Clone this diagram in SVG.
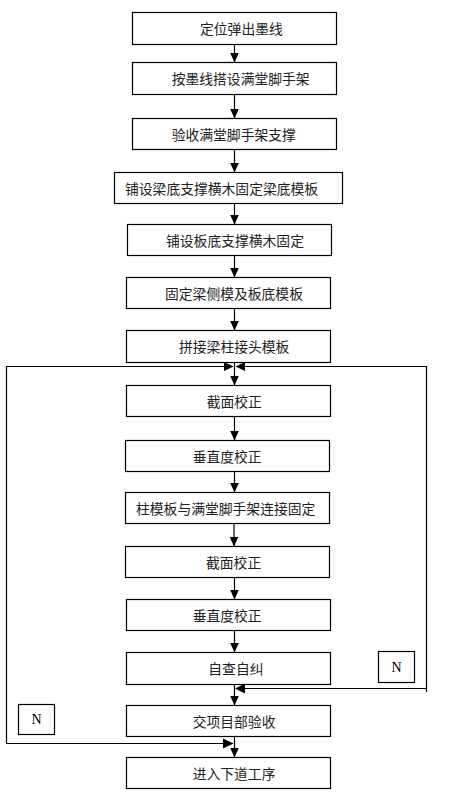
<svg xmlns="http://www.w3.org/2000/svg" width="449" height="801" viewBox="0 0 449 801">
<style>
.box{fill:#fff;stroke:#000;stroke-width:1.2}
.t{font-family:"Noto Sans CJK SC","Noto Sans",sans-serif;font-size:13.8px;fill:#222}
.n{font-family:"Liberation Serif",serif;font-size:14px;fill:#000;text-anchor:middle}
.ln{fill:none;stroke:#000;stroke-width:1.2}
.ah{fill:#000}
</style>
<defs>
<marker id="arr" markerWidth="10" markerHeight="10" viewBox="0 0 10 9" refX="10" refY="4.5" orient="auto" markerUnits="userSpaceOnUse">
<path d="M0,0 L10,4.5 L0,9 Z" fill="#000"/>
</marker>
</defs>
<rect width="449" height="801" fill="#fff"/>
<g id="connectors">
<line class="ln" x1="234.5" y1="44.5" x2="234.5" y2="62.5" marker-end="url(#arr)"/>
<line class="ln" x1="234.5" y1="94.5" x2="234.5" y2="118.5" marker-end="url(#arr)"/>
<line class="ln" x1="234.5" y1="149.5" x2="234.5" y2="172.5" marker-end="url(#arr)"/>
<line class="ln" x1="234.5" y1="203.5" x2="234.5" y2="224.5" marker-end="url(#arr)"/>
<line class="ln" x1="234.5" y1="255.5" x2="234.5" y2="277.5" marker-end="url(#arr)"/>
<line class="ln" x1="234.5" y1="308.5" x2="234.5" y2="330.5" marker-end="url(#arr)"/>
<line class="ln" x1="234.5" y1="362.5" x2="234.5" y2="385.5" marker-end="url(#arr)"/>
<line class="ln" x1="234.5" y1="416.5" x2="234.5" y2="440.5" marker-end="url(#arr)"/>
<line class="ln" x1="234.5" y1="471.5" x2="234.5" y2="492.5" marker-end="url(#arr)"/>
<line class="ln" x1="234" y1="523.5" x2="234" y2="546.5" marker-end="url(#arr)"/>
<line class="ln" x1="234.5" y1="577.5" x2="234.5" y2="599.5" marker-end="url(#arr)"/>
<line class="ln" x1="234.5" y1="630.5" x2="234.5" y2="652.5" marker-end="url(#arr)"/>
<line class="ln" x1="234.5" y1="684.5" x2="234.5" y2="705.5" marker-end="url(#arr)"/>
<line class="ln" x1="234.5" y1="736.5" x2="234.5" y2="757.5" marker-end="url(#arr)"/>
<polyline class="ln" points="233,366.5 6.5,366.5 6.5,743.5 233,743.5"/>
<polyline class="ln" points="237,366.5 426.5,366.5 426.5,692 426.5,688.5 236,688.5"/>
<polygon class="ah" points="224,362 233.5,366.5 224,371"/>
<polygon class="ah" points="245,362 235.5,366.5 245,371"/>
<polygon class="ah" points="245,683.5 235,688.5 245,693.5"/>
<polygon class="ah" points="223,738.5 233.5,743.5 223,748.5"/>
</g>
<g id="n1"><rect class="box" x="132.5" y="12.5" width="204" height="32"/><text class="t" x="200" y="34">定位弹出墨线</text></g>
<g id="n2"><rect class="box" x="132.5" y="62.5" width="204" height="32"/><text class="t" x="171.7" y="84">按墨线搭设满堂脚手架</text></g>
<g id="n3"><rect class="box" x="132.5" y="118.5" width="204" height="31"/><text class="t" x="171.7" y="139.5">验收满堂脚手架支撑</text></g>
<g id="n4"><rect class="box" x="114.5" y="172.5" width="228" height="31"/><text class="t" x="125" y="193.5">铺设梁底支撑横木固定梁底模板</text></g>
<g id="n5"><rect class="box" x="127.5" y="224.5" width="204" height="31"/><text class="t" x="166" y="245.5">铺设板底支撑横木固定</text></g>
<g id="n6"><rect class="box" x="126.5" y="277.5" width="204" height="31"/><text class="t" x="165" y="298.5">固定梁侧模及板底模板</text></g>
<g id="n7"><rect class="box" x="126.5" y="330.5" width="204" height="32"/><text class="t" x="179" y="352">拼接梁柱接头模板</text></g>
<g id="n8"><rect class="box" x="126.5" y="385.5" width="204" height="31"/><text class="t" x="206.7" y="406.5">截面校正</text></g>
<g id="n9"><rect class="box" x="125.5" y="440.5" width="204" height="31"/><text class="t" x="192.7" y="461.5">垂直度校正</text></g>
<g id="n10"><rect class="box" x="125.5" y="492.5" width="204" height="31"/><text class="t" x="136" y="513.5">柱模板与满堂脚手架连接固定</text></g>
<g id="n11"><rect class="box" x="125.5" y="546.5" width="204" height="31"/><text class="t" x="206" y="567.5">截面校正</text></g>
<g id="n12"><rect class="box" x="126.5" y="599.5" width="204" height="31"/><text class="t" x="192.7" y="620.5">垂直度校正</text></g>
<g id="n13"><rect class="box" x="126.5" y="652.5" width="204" height="32"/><text class="t" x="208.3" y="674">自查自纠</text></g>
<g id="n14"><rect class="box" x="126.5" y="705.5" width="204" height="31"/><text class="t" x="192.7" y="726.5">交项目部验收</text></g>
<g id="n15"><rect class="box" x="126.5" y="757.5" width="204" height="31"/><text class="t" x="192.7" y="778.5">进入下道工序</text></g>
<g id="nR"><rect class="box" x="378.5" y="651.5" width="36" height="31"/><text class="n" x="396.5" y="671.5">N</text></g>
<g id="nL"><rect class="box" x="18.5" y="704.5" width="36" height="30"/><text class="n" x="36.5" y="724">N</text></g>
</svg>
